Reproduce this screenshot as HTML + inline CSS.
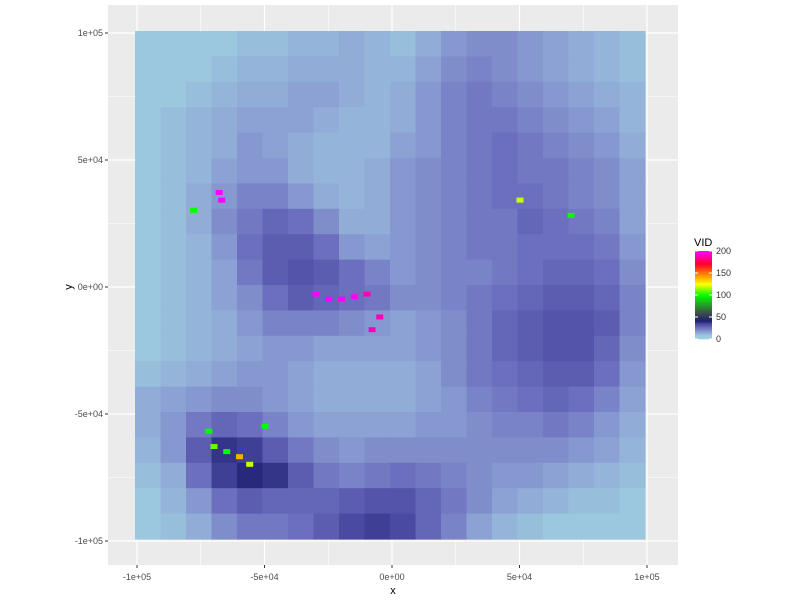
<!DOCTYPE html>
<html><head><meta charset="utf-8"><style>
body{margin:0;background:#fff;font-family:"Liberation Sans",sans-serif}
svg text{font-family:"Liberation Sans",sans-serif}
</style></head><body>
<svg id="c" width="800" height="600">
<rect x="108" y="5" width="570" height="560" fill="#EBEBEB"/>
<g id="grid"></g><g id="cells"></g><g id="hot"></g><g id="axes"></g><g id="legend"></g>
</svg>
<script>
const xTicks=[-100000,-50000,0,50000,100000];
const xTickLabels=["-1e+05","-5e+04","0e+00","5e+04","1e+05"];
const yTicks=[-100000,-50000,0,50000,100000];
const yTickLabels=["-1e+05","-5e+04","0e+00","5e+04","1e+05"];
const legendTicks=[0,50,100,150,200];
// grid rows from y=+100k (top) to -100k, columns x=-100k..100k, 10k cells
const vidGrid=[
[8,8,8,8,10,10,12,12,14,12,10,14,18,20,20,18,16,14,12,10],
[8,8,8,10,12,12,14,14,14,12,12,16,20,22,20,18,16,14,12,10],
[8,8,10,12,14,14,16,16,14,12,14,18,22,24,22,20,18,16,14,12],
[8,10,12,14,16,16,16,14,12,12,14,18,22,24,24,22,20,18,16,12],
[8,10,12,14,18,16,14,12,12,12,16,18,22,24,26,24,22,20,18,14],
[8,10,12,16,18,18,14,12,12,14,18,20,22,24,26,24,24,22,20,16],
[8,10,14,18,22,22,18,14,12,14,18,20,22,24,26,26,24,22,20,16],
[8,10,14,20,24,28,26,20,14,14,18,20,22,24,24,28,26,24,22,16],
[8,10,12,18,26,30,30,26,18,16,18,20,22,24,24,26,26,26,24,18],
[8,10,12,16,24,30,32,30,26,22,18,20,22,22,24,26,28,28,26,20],
[8,10,12,16,20,26,30,28,26,24,20,20,22,24,26,28,30,30,28,22],
[8,10,12,14,18,22,22,22,20,18,16,18,20,24,28,30,32,32,30,22],
[8,10,12,14,16,18,18,16,16,16,16,18,20,24,28,30,32,32,28,20],
[10,12,14,16,18,18,16,14,14,14,14,16,20,24,26,28,30,30,26,18],
[14,16,18,20,20,18,16,14,14,14,14,16,18,22,24,26,28,26,22,16],
[14,18,24,28,26,22,18,16,16,16,16,18,18,20,22,22,24,22,18,14],
[12,18,30,38,36,30,24,20,18,20,20,20,20,20,20,20,20,18,16,12],
[10,14,26,36,40,38,30,24,22,24,26,24,22,20,18,18,16,14,12,10],
[8,12,18,26,30,28,28,28,30,32,32,28,24,20,16,14,12,10,10,8],
[8,10,14,20,24,24,26,30,34,36,34,28,22,16,12,10,8,8,8,8]];
const hotX=[-68000,-67000,-30000,-25000,-20000,-15000,-10000,-5000,-72000,-70000,-65000,-60000,-56000,-78000,50000,70000,-8000,-50000];
const hotY=[37000,34000,-3000,-5000,-5000,-4000,-3000,-12000,-57000,-63000,-65000,-67000,-70000,30000,34000,28000,-17000,-55000];
const hotV=[200,200,200,200,200,200,190,190,100,110,100,140,120,100,120,100,190,100];
const X=v=>137+(v+100000)*255/100000, Y=v=>287-v*254/100000;
const NS="http://www.w3.org/2000/svg";
function mk(t,a,p){const e=document.createElementNS(NS,t);for(const k in a)e.setAttribute(k,a[k]);p.appendChild(e);return e;}
const stops=[[0,[158,206,222]],[8,[155,200,222]],[16,[140,162,212]],[25,[112,115,192]],[33,[80,80,168]],[42,[30,30,110]],[60,[60,80,70]],[100,[0,255,0]],[125,[255,255,0]],[150,[255,120,0]],[170,[255,0,40]],[200,[255,0,255]]];
function col(v){for(let i=1;i<stops.length;i++){if(v<=stops[i][0]){const a=stops[i-1],b=stops[i],t=(v-a[0])/(b[0]-a[0]);return "rgb("+a[1].map((c,j)=>Math.round(c+(b[1][j]-c)*t)).join(",")+")";}}return "rgb(255,0,255)";}
const grid=document.getElementById('grid');
[-75000,-25000,25000,75000].forEach(v=>{mk('line',{x1:X(v),x2:X(v),y1:5,y2:565,stroke:'#fff','stroke-width':0.6},grid);mk('line',{y1:Y(v),y2:Y(v),x1:108,x2:678,stroke:'#fff','stroke-width':0.6},grid);});
xTicks.forEach(v=>{const l=mk('line',{x1:X(v),x2:X(v),y1:5,y2:565,stroke:'#fff','stroke-width':1.2},grid);});
yTicks.forEach(v=>{const l=mk('line',{y1:Y(v),y2:Y(v),x1:108,x2:678,stroke:'#fff','stroke-width':1.2},grid);});
const cells=document.getElementById('cells');
vidGrid.forEach((row,r)=>row.forEach((v,c)=>{const x0=-100000+c*10000,y0=100000-r*10000;
const e=mk('rect',{x:X(x0)-2,y:Y(y0)-2,width:X(x0+10000)-X(x0)+0.6,height:Y(y0-10000)-Y(y0)+0.6,fill:col(v)},cells);
}));
const hot=document.getElementById('hot');
hotX.forEach((x,i)=>{const e=mk('rect',{x:X(x)-3,y:Y(hotY[i])-3,width:7,height:5,fill:col(hotV[i])},hot);
});
const ax=document.getElementById('axes');
xTicks.forEach((v,i)=>{mk('line',{x1:X(v),x2:X(v),y1:565,y2:568,stroke:'#333'},ax);const t=mk('text',{x:X(v),y:580,'text-anchor':'middle','font-size':9,fill:'#4d4d4d'},ax);t.textContent=xTickLabels[i];});
yTicks.forEach((v,i)=>{mk('line',{x1:105,x2:108,y1:Y(v),y2:Y(v),stroke:'#333'},ax);const t=mk('text',{x:103,y:Y(v)+3,'text-anchor':'end','font-size':9,fill:'#4d4d4d'},ax);t.textContent=yTickLabels[i];});
let t=mk('text',{x:393,y:594,'text-anchor':'middle','font-size':11},ax);t.textContent='x';
t=mk('text',{x:72,y:287,'text-anchor':'middle','font-size':11,transform:'rotate(-90 72 287)'},ax);t.textContent='y';
const lg=document.getElementById('legend');
t=mk('text',{x:694,y:246,'font-size':11},lg);t.textContent='VID';
const L=v=>339-v*88/200;
for(let v=0;v<200;v+=2){mk('rect',{x:695,y:L(v+2),width:17,height:L(v)-L(v+2)+0.3,fill:col(v+1)},lg);}
legendTicks.forEach(v=>{mk('line',{x1:695,x2:698,y1:L(v),y2:L(v),stroke:'#fff'},lg);mk('line',{x1:709,x2:712,y1:L(v),y2:L(v),stroke:'#fff'},lg);const e=mk('text',{x:716,y:L(v)+3,'font-size':9,fill:'#333'},lg);e.textContent=v;});
</script>
</body></html>
